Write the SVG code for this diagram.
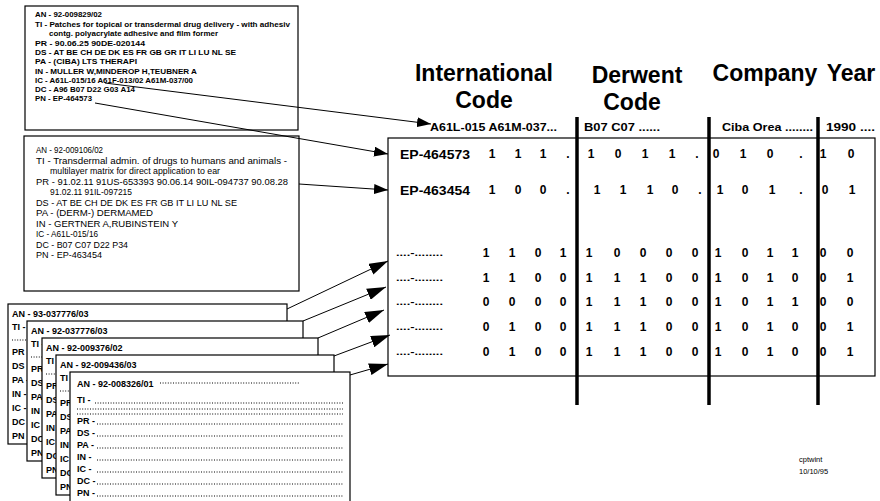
<svg xmlns="http://www.w3.org/2000/svg" width="880" height="501" viewBox="0 0 880 501">
<style>
  text { font-family: "Liberation Sans", Arial, Helvetica, sans-serif; fill: #000; }
  .card { fill: #fff; stroke: #000; stroke-width: 1.2; }
  .c1 { font-size: 7.5px; font-weight: bold; }
  .c2 { font-size: 9px; }
  .st { font-size: 9px; font-weight: bold; }
  .dots { stroke: #000; stroke-width: 1; stroke-dasharray: 1 1.6; fill: none; }
  .hdr { font-size: 23px; font-weight: bold; text-anchor: middle; }
  .sub { font-size: 11px; font-weight: bold; }
  .ep { font-size: 13px; font-weight: bold; }
  .dg { font-size: 12px; font-weight: bold; text-anchor: middle; }
  .lbl { font-size: 9px; font-weight: bold; }
  .bar { stroke: #000; stroke-width: 3.5; }
  .conn { stroke: #000; stroke-width: 1; fill: none; }
  .note { font-size: 7.5px; }
</style>
<defs>
  <marker id="headS" markerUnits="userSpaceOnUse" markerWidth="14" markerHeight="10" refX="14" refY="5" orient="auto">
    <path d="M0,0 L14,5 L0,10 Z" fill="#000"/>
  </marker>
  <marker id="headL" markerUnits="userSpaceOnUse" markerWidth="19" markerHeight="12" refX="19" refY="6" orient="auto">
    <path d="M0,0 L19,6 L0,12 Z" fill="#000"/>
  </marker>
  <!-- one stacked record sheet: label column with dotted fields -->
  <g id="sheet-fields">
    <text class="st" x="4" y="26">TI -</text><line class="dots" x1="22" y1="26" x2="272" y2="26"/>
    <line class="dots" x1="4" y1="36" x2="272" y2="36"/>
    <text class="st" x="4" y="51">PR -</text><line class="dots" x1="24" y1="51" x2="272" y2="51"/>
    <text class="st" x="4" y="65">DS -</text><line class="dots" x1="24" y1="65" x2="272" y2="65"/>
    <text class="st" x="4" y="79">PA -</text><line class="dots" x1="24" y1="79" x2="272" y2="79"/>
    <text class="st" x="4" y="93">IN -</text><line class="dots" x1="24" y1="93" x2="272" y2="93"/>
    <text class="st" x="4" y="107">IC -</text><line class="dots" x1="24" y1="107" x2="272" y2="107"/>
    <text class="st" x="4" y="121">DC -</text><line class="dots" x1="24" y1="121" x2="272" y2="121"/>
    <text class="st" x="4" y="135">PN -</text><line class="dots" x1="24" y1="135" x2="272" y2="135"/>
  </g>
</defs>
<rect width="880" height="501" fill="#fff"/>

<!-- record 1 -->
<g id="record-1">
  <rect class="card" x="25" y="6" width="273" height="124"/>
  <text class="c1" x="35" y="17" textLength="67" lengthAdjust="spacingAndGlyphs">AN  - 92-009829/02</text>
  <text class="c1" x="35" y="27" textLength="255" lengthAdjust="spacingAndGlyphs">TI  - Patches for topical or transdermal drug delivery - with adhesiv</text>
  <text class="c1" x="49" y="36" textLength="169" lengthAdjust="spacingAndGlyphs">contg. polyacrylate adhesive and film former</text>
  <text class="c1" x="35" y="46" textLength="110" lengthAdjust="spacingAndGlyphs">PR  - 90.06.25 90DE-020144</text>
  <text class="c1" x="35" y="55" textLength="201" lengthAdjust="spacingAndGlyphs">DS  - AT BE CH DE DK ES FR GB GR IT LI LU NL SE</text>
  <text class="c1" x="35" y="64" textLength="102" lengthAdjust="spacingAndGlyphs">PA  - (CIBA) LTS THERAPI</text>
  <text class="c1" x="35" y="74" textLength="162" lengthAdjust="spacingAndGlyphs">IN  - MULLER W,MINDEROP H,TEUBNER A</text>
  <text class="c1" x="35" y="83" textLength="158" lengthAdjust="spacingAndGlyphs">IC  - A61L-015/16 A61F-013/02 A61M-037/00</text>
  <text class="c1" x="35" y="92" textLength="100" lengthAdjust="spacingAndGlyphs">DC  - A96 B07 D22 G03 A14</text>
  <text class="c1" x="35" y="101" textLength="57" lengthAdjust="spacingAndGlyphs">PN  - EP-464573</text>
</g>

<!-- record 2 -->
<g id="record-2">
  <rect class="card" x="24" y="136" width="275" height="155"/>
  <text class="c2" x="36" y="153" textLength="67" lengthAdjust="spacingAndGlyphs">AN  - 92-009106/02</text>
  <text class="c2" x="36" y="164" textLength="251" lengthAdjust="spacingAndGlyphs">TI  - Transdermal admin. of drugs to humans and animals -</text>
  <text class="c2" x="50" y="174" textLength="170" lengthAdjust="spacingAndGlyphs">multilayer matrix for direct application to ear</text>
  <text class="c2" x="36" y="185" textLength="252" lengthAdjust="spacingAndGlyphs">PR  - 91.02.11 91US-653393  90.06.14 90IL-094737  90.08.28</text>
  <text class="c2" x="50" y="195" textLength="82" lengthAdjust="spacingAndGlyphs">91.02.11 91IL-097215</text>
  <text class="c2" x="36" y="206" textLength="201" lengthAdjust="spacingAndGlyphs">DS  - AT BE CH DE DK ES FR GB IT LI LU NL SE</text>
  <text class="c2" x="36" y="216" textLength="117" lengthAdjust="spacingAndGlyphs">PA  - (DERM-) DERMAMED</text>
  <text class="c2" x="36" y="227" textLength="142" lengthAdjust="spacingAndGlyphs">IN  - GERTNER A,RUBINSTEIN Y</text>
  <text class="c2" x="36" y="237" textLength="62" lengthAdjust="spacingAndGlyphs">IC  - A61L-015/16</text>
  <text class="c2" x="36" y="248" textLength="92" lengthAdjust="spacingAndGlyphs">DC  - B07 C07 D22 P34</text>
  <text class="c2" x="36" y="258" textLength="66" lengthAdjust="spacingAndGlyphs">PN  - EP-463454</text>
</g>

<!-- stacked records, back to front -->
<g id="record-stack-a">
  <rect class="card" x="8" y="304" width="279" height="140"/>
  <text class="st" x="12" y="317">AN  - 93-037776/03</text>
  <use href="#sheet-fields" x="8" y="304"/>
</g>
<g id="record-stack-b">
  <rect class="card" x="27" y="321" width="276" height="140"/>
  <text class="st" x="31" y="334">AN  - 92-037776/03</text>
  <use href="#sheet-fields" x="27" y="321"/>
</g>
<g id="record-stack-c">
  <rect class="card" x="42" y="338" width="276" height="140"/>
  <text class="st" x="46" y="351">AN  - 92-009376/02</text>
  <use href="#sheet-fields" x="42" y="338"/>
</g>
<g id="record-stack-d">
  <rect class="card" x="56" y="355" width="278" height="140"/>
  <text class="st" x="60" y="368">AN  - 92-009436/03</text>
  <use href="#sheet-fields" x="56" y="355"/>
</g>
<g id="record-stack-e">
  <rect class="card" x="70" y="372" width="280" height="140"/>
  <text class="st" x="77" y="387">AN  - 92-008326/01</text>
  <line class="dots" x1="160" y1="383" x2="300" y2="383"/>
  <text class="st" x="77" y="403">TI -</text><line class="dots" x1="95" y1="403" x2="343" y2="403"/>
  <line class="dots" x1="77" y1="409" x2="343" y2="409"/>
  <line class="dots" x1="77" y1="414" x2="343" y2="414"/>
  <text class="st" x="77" y="424">PR -</text><line class="dots" x1="97" y1="424" x2="343" y2="424"/>
  <text class="st" x="77" y="436">DS -</text><line class="dots" x1="97" y1="436" x2="343" y2="436"/>
  <text class="st" x="77" y="448">PA -</text><line class="dots" x1="97" y1="448" x2="343" y2="448"/>
  <text class="st" x="77" y="460">IN -</text><line class="dots" x1="97" y1="460" x2="343" y2="460"/>
  <text class="st" x="77" y="472">IC -</text><line class="dots" x1="97" y1="472" x2="343" y2="472"/>
  <text class="st" x="77" y="484">DC -</text><line class="dots" x1="97" y1="484" x2="343" y2="484"/>
  <text class="st" x="77" y="496">PN -</text><line class="dots" x1="97" y1="496" x2="343" y2="496"/>
</g>

<!-- column headings -->
<g id="headings">
  <text class="hdr" x="484" y="81">International</text>
  <text class="hdr" x="484" y="108">Code</text>
  <text class="hdr" x="637" y="83">Derwent</text>
  <text class="hdr" x="632" y="110">Code</text>
  <text class="hdr" x="765" y="81">Company</text>
  <text class="hdr" x="851" y="81">Year</text>
  <text class="sub" x="430" y="131" textLength="127" lengthAdjust="spacingAndGlyphs">A61L-015 A61M-037...</text>
  <text class="sub" x="584" y="131" textLength="76" lengthAdjust="spacingAndGlyphs">B07   C07   ......</text>
  <text class="sub" x="722" y="131" textLength="91" lengthAdjust="spacingAndGlyphs">Ciba Orea ........</text>
  <text class="sub" x="826" y="131" textLength="49" lengthAdjust="spacingAndGlyphs">1990 ....</text>
</g>

<!-- attribute matrix -->
<g id="matrix">
  <rect x="388" y="138" width="487" height="238" fill="none" stroke="#000" stroke-width="1.2"/>
  <line class="bar" x1="577" y1="117" x2="577" y2="405"/>
  <line class="bar" x1="709" y1="117" x2="709" y2="405"/>
  <line class="bar" x1="818" y1="117" x2="818" y2="405"/>

  <text class="ep" x="400" y="159" textLength="70" lengthAdjust="spacingAndGlyphs">EP-464573</text>
  <g>
    <text class="dg" x="492" y="158">1</text><text class="dg" x="518" y="158">1</text><text class="dg" x="543" y="158">1</text><text class="dg" x="568" y="158">.</text>
    <text class="dg" x="591" y="158">1</text><text class="dg" x="618" y="158">0</text><text class="dg" x="645" y="158">1</text><text class="dg" x="672" y="158">1</text><text class="dg" x="697" y="158">.</text>
    <text class="dg" x="716" y="158">0</text><text class="dg" x="743" y="158">1</text><text class="dg" x="770" y="158">0</text><text class="dg" x="801" y="158">.</text>
    <text class="dg" x="823" y="158">1</text><text class="dg" x="851" y="158">0</text>
  </g>

  <text class="ep" x="400" y="195" textLength="70" lengthAdjust="spacingAndGlyphs">EP-463454</text>
  <g>
    <text class="dg" x="492" y="194">1</text><text class="dg" x="518" y="194">0</text><text class="dg" x="543" y="194">0</text><text class="dg" x="568" y="194">.</text>
    <text class="dg" x="597" y="194">1</text><text class="dg" x="623" y="194">1</text><text class="dg" x="650" y="194">1</text><text class="dg" x="675" y="194">0</text><text class="dg" x="700" y="194">.</text>
    <text class="dg" x="720" y="194">1</text><text class="dg" x="745" y="194">0</text><text class="dg" x="772" y="194">1</text><text class="dg" x="801" y="194">.</text>
    <text class="dg" x="825" y="194">0</text><text class="dg" x="852" y="194">1</text>
  </g>

  <g>
    <text class="lbl" x="396" y="256" textLength="47" lengthAdjust="spacingAndGlyphs">....-........</text>
    <text class="dg" x="486" y="257">1</text><text class="dg" x="512" y="257">1</text><text class="dg" x="538" y="257">0</text><text class="dg" x="563" y="257">1</text>
    <text class="dg" x="589" y="257">1</text><text class="dg" x="617" y="257">0</text><text class="dg" x="643" y="257">0</text><text class="dg" x="669" y="257">0</text><text class="dg" x="695" y="257">0</text>
    <text class="dg" x="718" y="257">1</text><text class="dg" x="745" y="257">0</text><text class="dg" x="770" y="257">1</text><text class="dg" x="795" y="257">1</text>
    <text class="dg" x="823" y="257">0</text><text class="dg" x="850" y="257">0</text>
  </g>
  <g>
    <text class="lbl" x="396" y="281" textLength="47" lengthAdjust="spacingAndGlyphs">....-........</text>
    <text class="dg" x="486" y="282">1</text><text class="dg" x="512" y="282">1</text><text class="dg" x="538" y="282">0</text><text class="dg" x="563" y="282">0</text>
    <text class="dg" x="589" y="282">1</text><text class="dg" x="617" y="282">1</text><text class="dg" x="643" y="282">1</text><text class="dg" x="669" y="282">0</text><text class="dg" x="695" y="282">0</text>
    <text class="dg" x="718" y="282">1</text><text class="dg" x="745" y="282">0</text><text class="dg" x="770" y="282">1</text><text class="dg" x="795" y="282">0</text>
    <text class="dg" x="823" y="282">0</text><text class="dg" x="850" y="282">1</text>
  </g>
  <g>
    <text class="lbl" x="396" y="305" textLength="47" lengthAdjust="spacingAndGlyphs">....-........</text>
    <text class="dg" x="486" y="306">0</text><text class="dg" x="512" y="306">0</text><text class="dg" x="538" y="306">0</text><text class="dg" x="563" y="306">0</text>
    <text class="dg" x="589" y="306">1</text><text class="dg" x="617" y="306">1</text><text class="dg" x="643" y="306">1</text><text class="dg" x="669" y="306">0</text><text class="dg" x="695" y="306">0</text>
    <text class="dg" x="718" y="306">1</text><text class="dg" x="745" y="306">0</text><text class="dg" x="770" y="306">1</text><text class="dg" x="795" y="306">1</text>
    <text class="dg" x="823" y="306">0</text><text class="dg" x="850" y="306">0</text>
  </g>
  <g>
    <text class="lbl" x="396" y="330" textLength="47" lengthAdjust="spacingAndGlyphs">....-........</text>
    <text class="dg" x="486" y="331">0</text><text class="dg" x="512" y="331">1</text><text class="dg" x="538" y="331">0</text><text class="dg" x="563" y="331">0</text>
    <text class="dg" x="589" y="331">1</text><text class="dg" x="617" y="331">1</text><text class="dg" x="643" y="331">1</text><text class="dg" x="669" y="331">0</text><text class="dg" x="695" y="331">0</text>
    <text class="dg" x="718" y="331">1</text><text class="dg" x="745" y="331">0</text><text class="dg" x="770" y="331">1</text><text class="dg" x="795" y="331">0</text>
    <text class="dg" x="823" y="331">0</text><text class="dg" x="850" y="331">1</text>
  </g>
  <g>
    <text class="lbl" x="396" y="355" textLength="47" lengthAdjust="spacingAndGlyphs">....-........</text>
    <text class="dg" x="486" y="356">0</text><text class="dg" x="512" y="356">1</text><text class="dg" x="538" y="356">0</text><text class="dg" x="563" y="356">0</text>
    <text class="dg" x="589" y="356">1</text><text class="dg" x="617" y="356">1</text><text class="dg" x="643" y="356">1</text><text class="dg" x="669" y="356">0</text><text class="dg" x="695" y="356">0</text>
    <text class="dg" x="718" y="356">1</text><text class="dg" x="745" y="356">0</text><text class="dg" x="770" y="356">1</text><text class="dg" x="795" y="356">0</text>
    <text class="dg" x="823" y="356">0</text><text class="dg" x="850" y="356">1</text>
  </g>
</g>

<!-- connectors from records to the matrix -->
<g id="connectors">
  <line class="conn" x1="105" y1="83" x2="431" y2="124" marker-end="url(#headS)"/>
  <line class="conn" x1="95" y1="103" x2="388" y2="154" marker-end="url(#headS)"/>
  <line class="conn" x1="299" y1="184" x2="388" y2="190" marker-end="url(#headS)"/>
  <line class="conn" x1="287" y1="309" x2="388" y2="261" marker-end="url(#headL)"/>
  <line class="conn" x1="303" y1="321" x2="386" y2="287" marker-end="url(#headL)"/>
  <line class="conn" x1="318" y1="338" x2="384" y2="310" marker-end="url(#headL)"/>
  <line class="conn" x1="334" y1="356" x2="390" y2="335" marker-end="url(#headL)"/>
  <line class="conn" x1="350" y1="375" x2="388" y2="364" marker-end="url(#headL)"/>
</g>

<g id="footer">
  <text class="note" x="799" y="462">cptwint</text>
  <text class="note" x="799" y="474">10/10/95</text>
</g>
</svg>
